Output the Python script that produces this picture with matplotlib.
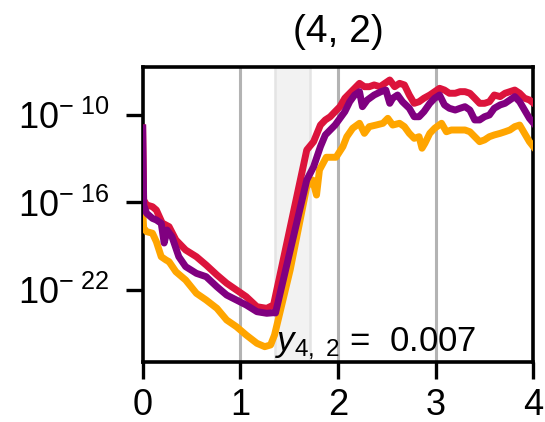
import numpy as np
import matplotlib
matplotlib.use("Agg")
import matplotlib.pyplot as plt

plt.rcParams['font.family'] = ['Liberation Sans', 'DejaVu Sans']
plt.rcParams['mathtext.fontset'] = 'custom'
plt.rcParams['mathtext.rm'] = 'Liberation Sans'
plt.rcParams['mathtext.it'] = 'Liberation Sans:italic'
plt.rcParams['mathtext.bf'] = 'Liberation Sans:bold'

# log10 of each series, sampled along t
t_red = [0, 0.01, 0.04, 0.10, 0.14, 0.20, 0.27, 0.34, 0.44, 0.55, 0.65, 0.76, 0.86,
         0.96, 1.06, 1.17, 1.27, 1.34, 1.68, 1.75, 1.82, 1.87, 1.92, 1.97, 2.02, 2.07,
         2.12, 2.17, 2.22, 2.27, 2.32, 2.37, 2.43, 2.48, 2.53, 2.58, 2.63, 2.68, 2.73,
         2.78, 2.83, 2.88, 2.94, 2.99, 3.04, 3.09, 3.14, 3.20, 3.25, 3.30, 3.35, 3.40,
         3.45, 3.50, 3.55, 3.60, 3.66, 3.71, 3.76, 3.81, 3.86, 3.91, 3.96, 4.0]
e_red = [-10.89, -15.83, -16.17, -16.29, -16.52, -17.41, -17.66, -18.57, -19.26, -19.72,
         -20.29, -20.97, -21.54, -22.00, -22.46, -23.15, -23.26, -23.03, -12.40, -11.83,
         -10.69, -10.34, -10.12, -9.77, -9.43, -8.85, -8.51, -8.17, -7.83, -8.06, -8.06,
         -7.94, -8.06, -7.83, -7.60, -8.06, -7.83, -7.94, -8.63, -9.20, -9.09, -8.85,
         -8.63, -8.40, -8.17, -8.29, -8.51, -8.51, -8.40, -8.40, -8.51, -8.85, -9.20,
         -9.20, -9.09, -8.63, -8.74, -8.51, -8.40, -8.29, -8.51, -8.85, -8.97, -9.18]

t_purple = [0, 0.01, 0.04, 0.10, 0.14, 0.19, 0.22, 0.25, 0.30, 0.37, 0.44, 0.55, 0.65,
            0.76, 0.86, 0.96, 1.06, 1.17, 1.27, 1.34, 1.36, 1.68, 1.75, 1.82, 1.87, 1.92,
            1.97, 2.02, 2.07, 2.12, 2.17, 2.22, 2.25, 2.30, 2.37, 2.44, 2.49, 2.53, 2.56,
            2.61, 2.66, 2.73, 2.78, 2.83, 2.88, 2.94, 2.99, 3.04, 3.09, 3.14, 3.20, 3.25,
            3.30, 3.35, 3.40, 3.45, 3.50, 3.55, 3.60, 3.66, 3.71, 3.76, 3.81, 3.86, 3.91,
            3.96, 4.0]
e_purple = [-10.89, -16.17, -16.74, -17.09, -17.20, -17.43, -18.78, -17.89, -18.35, -19.72,
            -20.40, -20.86, -21.09, -21.78, -22.35, -22.69, -23.03, -23.49, -23.60, -23.56,
            -23.58, -14.46, -13.55, -12.17, -11.37, -11.03, -10.69, -10.23, -9.77, -9.09,
            -8.63, -8.40, -9.43, -8.97, -8.63, -8.40, -8.29, -9.20, -8.85, -8.63, -9.09,
            -9.54, -10.12, -10.12, -9.77, -9.20, -8.85, -8.63, -9.31, -9.54, -9.66, -9.54,
            -9.43, -9.66, -10.34, -10.34, -10.12, -10.00, -9.54, -9.31, -9.20, -8.97, -8.74,
            -9.09, -9.66, -10.23, -10.55]

t_orange = [0, 0.01, 0.04, 0.10, 0.14, 0.19, 0.24, 0.27, 0.34, 0.44, 0.55, 0.65, 0.76,
            0.86, 0.96, 1.06, 1.17, 1.25, 1.31, 1.35, 1.51, 1.68, 1.74, 1.78, 1.81, 1.88,
            1.98, 2.05, 2.09, 2.15, 2.22, 2.27, 2.32, 2.39, 2.46, 2.51, 2.56, 2.63, 2.68,
            2.73, 2.78, 2.83, 2.86, 2.89, 2.94, 2.99, 3.06, 3.11, 3.16, 3.23, 3.30, 3.35,
            3.40, 3.45, 3.50, 3.55, 3.60, 3.66, 3.71, 3.76, 3.81, 3.86, 3.91, 3.96, 4.0]
e_orange = [-16.52, -17.75, -18.00, -18.11, -18.69, -19.72, -19.95, -20.06, -20.75, -21.32,
            -22.23, -22.69, -23.26, -24.06, -24.52, -25.09, -25.66, -25.89, -25.77, -25.09,
            -20.63, -14.92, -14.46, -15.49, -13.77, -12.90, -12.90, -12.17, -11.49, -10.91,
            -10.57, -11.26, -10.80, -10.69, -10.57, -10.23, -10.69, -10.57, -10.80, -11.26,
            -11.60, -11.49, -12.28, -11.94, -11.26, -10.91, -10.57, -11.15, -11.03, -11.03,
            -11.03, -11.15, -11.49, -11.83, -11.71, -11.49, -11.37, -11.26, -11.15, -11.03,
            -10.80, -10.69, -11.26, -11.83, -12.17]

span = (1.35, 1.71)
gamma_label = "0.007"
ytick_exp = [-10, -16, -22]

fig = plt.figure(figsize=(5.45, 4.22), dpi=100)
ax = fig.add_axes([0.2618, 0.1422, 0.7168, 0.699])

ax.axvspan(span[0], span[1], facecolor='#f2f2f2', edgecolor='#e4e4e4', lw=1.8, zorder=0)
for xv in [1, 2, 3]:
    ax.axvline(xv, color='#b3b3b3', lw=2.2, zorder=1)

ax.plot(t_red, 10.0 ** np.array(e_red), color='#dc143c', lw=5, zorder=3)
ax.plot(t_purple, 10.0 ** np.array(e_purple), color='#800080', lw=5, zorder=4)
ax.plot(t_orange, 10.0 ** np.array(e_orange), color='#ffa500', lw=5, zorder=3)

ax.set_yscale('log')
ax.set_xlim(0, 4)
ax.set_ylim(10 ** -26.94, 10 ** -6.71)
ax.set_xticks([0, 1, 2, 3, 4])
ax.set_xticklabels(['0', '1', '2', '3', '4'])
ax.set_yticks([10.0 ** e for e in ytick_exp])
ax.set_yticklabels([r"$10^{-\ %d}$" % (-e) for e in ytick_exp])
ax.minorticks_off()
ax.tick_params(labelsize=26, length=12, width=2.4)
ax.tick_params(axis='y', pad=12)
ax.tick_params(axis='x', pad=7)
for s in ax.spines.values():
    s.set_linewidth(2.6)

ax.text(span[0], 10 ** -26.94, r"$y_{4,\ 2}$ =  " + gamma_label,
        fontsize=25, ha='left', va='bottom', zorder=5)
ax.set_title("(4, 2)", fontsize=28, pad=18)

fig.savefig("out.png", dpi=100)
